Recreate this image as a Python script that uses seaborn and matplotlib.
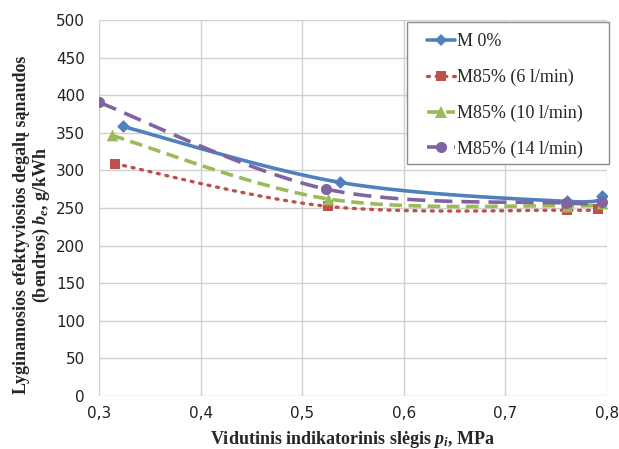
import numpy as np
import pandas as pd
import matplotlib
matplotlib.use("Agg")
import matplotlib.pyplot as plt
from matplotlib.lines import Line2D
from matplotlib.patches import Rectangle
import seaborn as sns

# ---- data ----
series_names = ["M 0%", "M85% (6 l/min)", "M85% (10 l/min)", "M85% (14 l/min)"]
x_m0 = [0.3236, 0.5375, 0.7605, 0.7950]
y_m0 = [358.4, 284.0, 258.8, 265.5]
x_m6 = [0.3159, 0.5252, 0.7605, 0.7910]
y_m6 = [308.8, 252.2, 247.0, 248.7]
x_m10 = [0.3128, 0.5258, 0.7605, 0.7955]
y_m10 = [346.5, 262.0, 253.0, 256.6]
x_m14 = [0.3003, 0.5234, 0.7597, 0.7950]
y_m14 = [390.3, 275.2, 256.6, 258.0]
x_ticks = [0.3, 0.4, 0.5, 0.6, 0.7, 0.8]
x_tick_labels = ["0,3", "0,4", "0,5", "0,6", "0,7", "0,8"]
y_ticks = [0, 50, 100, 150, 200, 250, 300, 350, 400, 450, 500]

xs = [x_m0, x_m6, x_m10, x_m14]
ys = [y_m0, y_m6, y_m10, y_m14]
colors = ["#4F81BD", "#C0504D", "#9BBB59", "#8064A2"]
markers = ["D", "s", "^", "o"]
msizes = [6.5, 7.5, 8.5, 8]
lstyles = ["-", (0, (0.6, 2.0)), (0, (3.5, 1.8)), (0, (5, 2.5))]
lwidths = [2.6, 2.4, 2.6, 2.6]


def smooth(x, y, n=40):
    """Excel-like smoothed curve (Catmull-Rom Bezier) through the data points."""
    p = np.column_stack([x, y]).astype(float)
    pts = []
    for i in range(len(p) - 1):
        p0 = p[i - 1] if i > 0 else p[i]
        p1 = p[i]
        p2 = p[i + 1]
        p3 = p[i + 2] if i + 2 < len(p) else p[i + 1]
        c1 = p1 + (p2 - p0) / 6.0
        c2 = p2 - (p3 - p1) / 6.0
        t = np.linspace(0, 1, n)[:, None]
        seg = ((1 - t) ** 3) * p1 + 3 * ((1 - t) ** 2) * t * c1 + 3 * (1 - t) * t ** 2 * c2 + t ** 3 * p2
        pts.append(seg if i == 0 else seg[1:])
    s = np.vstack(pts)
    return s[:, 0], s[:, 1]


sns.set_theme(style="white")
plt.rcParams["mathtext.fontset"] = "custom"
plt.rcParams["mathtext.rm"] = "Liberation Serif:bold"
plt.rcParams["mathtext.it"] = "Liberation Serif:italic:bold"
plt.rcParams["mathtext.bf"] = "Liberation Serif:bold"

W, H = 619, 449
fig = plt.figure(figsize=(W / 100, H / 100), dpi=100)
ax = fig.add_axes([99 / W, 53 / H, 508 / W, 376 / H])

handles = []
for name, x, y, c, m, ms, ls, lw in zip(series_names, xs, ys, colors, markers, msizes, lstyles, lwidths):
    sx, sy = smooth(x, y)
    df = pd.DataFrame({"x": sx, "y": sy})
    line_kw = {"dash_capstyle": "round"} if name == "M85% (6 l/min)" else {}
    sns.lineplot(data=df, x="x", y="y", sort=False, estimator=None, color=c,
                 linewidth=lw, linestyle=ls, ax=ax, zorder=3, **line_kw)
    pdf = pd.DataFrame({"x": x, "y": y})
    sns.scatterplot(data=pdf, x="x", y="y", color=c, marker=m, s=ms ** 2,
                    edgecolor=c, linewidth=0, ax=ax, zorder=4)
    handles.append(Line2D([0], [0], color=c, linestyle=ls, linewidth=lw,
                          marker=m, markersize=ms, markeredgewidth=0, label=name, **line_kw))

ax.set_xlim(0.3, 0.8)
ax.set_ylim(0, 500)
ax.set_xticks(x_ticks)
ax.set_xticklabels(x_tick_labels)
ax.set_yticks(y_ticks)
ax.grid(True, color="#d0d0d0", linewidth=1)
for sp in ax.spines.values():
    sp.set_visible(False)
ax.tick_params(axis="both", labelsize=11, colors="#222222", length=0, pad=7)
ax.tick_params(axis="y", length=5, color="#d0d0d0", direction="out", pad=5)

ax.set_xlabel("Vidutinis indikatorinis slėgis $p_i$, MPa", family="Liberation Serif",
              fontweight="bold", fontsize=13, labelpad=6)
ax.set_ylabel("Lyginamosios efektyviosios degalų sąnaudos\n(bendros) $b_e$, g/kWh",
              family="Liberation Serif", fontweight="bold", fontsize=13,
              linespacing=1.05)
ax.yaxis.set_label_coords((52 - 99) / 508, (396 - 225) / 376)

# legend frame drawn as a rectangle in figure pixels
fig.patches.append(Rectangle((407 / W, 1 - 164 / H), 202 / W, 142 / H,
                             transform=fig.transFigure, facecolor="white",
                             edgecolor="#8c8c8c", linewidth=1.0, zorder=5))
leg = fig.legend(handles=handles, loc="upper left",
                 bbox_to_anchor=(427 / W, 1 - 33.5 / H), bbox_transform=fig.transFigure,
                 prop={"family": "Liberation Serif", "size": 13},
                 frameon=False, borderpad=0, labelspacing=1.02,
                 handlelength=1.55, handletextpad=0.1, borderaxespad=0)
leg.set_zorder(6)

fig.savefig("out.png", dpi=100)
